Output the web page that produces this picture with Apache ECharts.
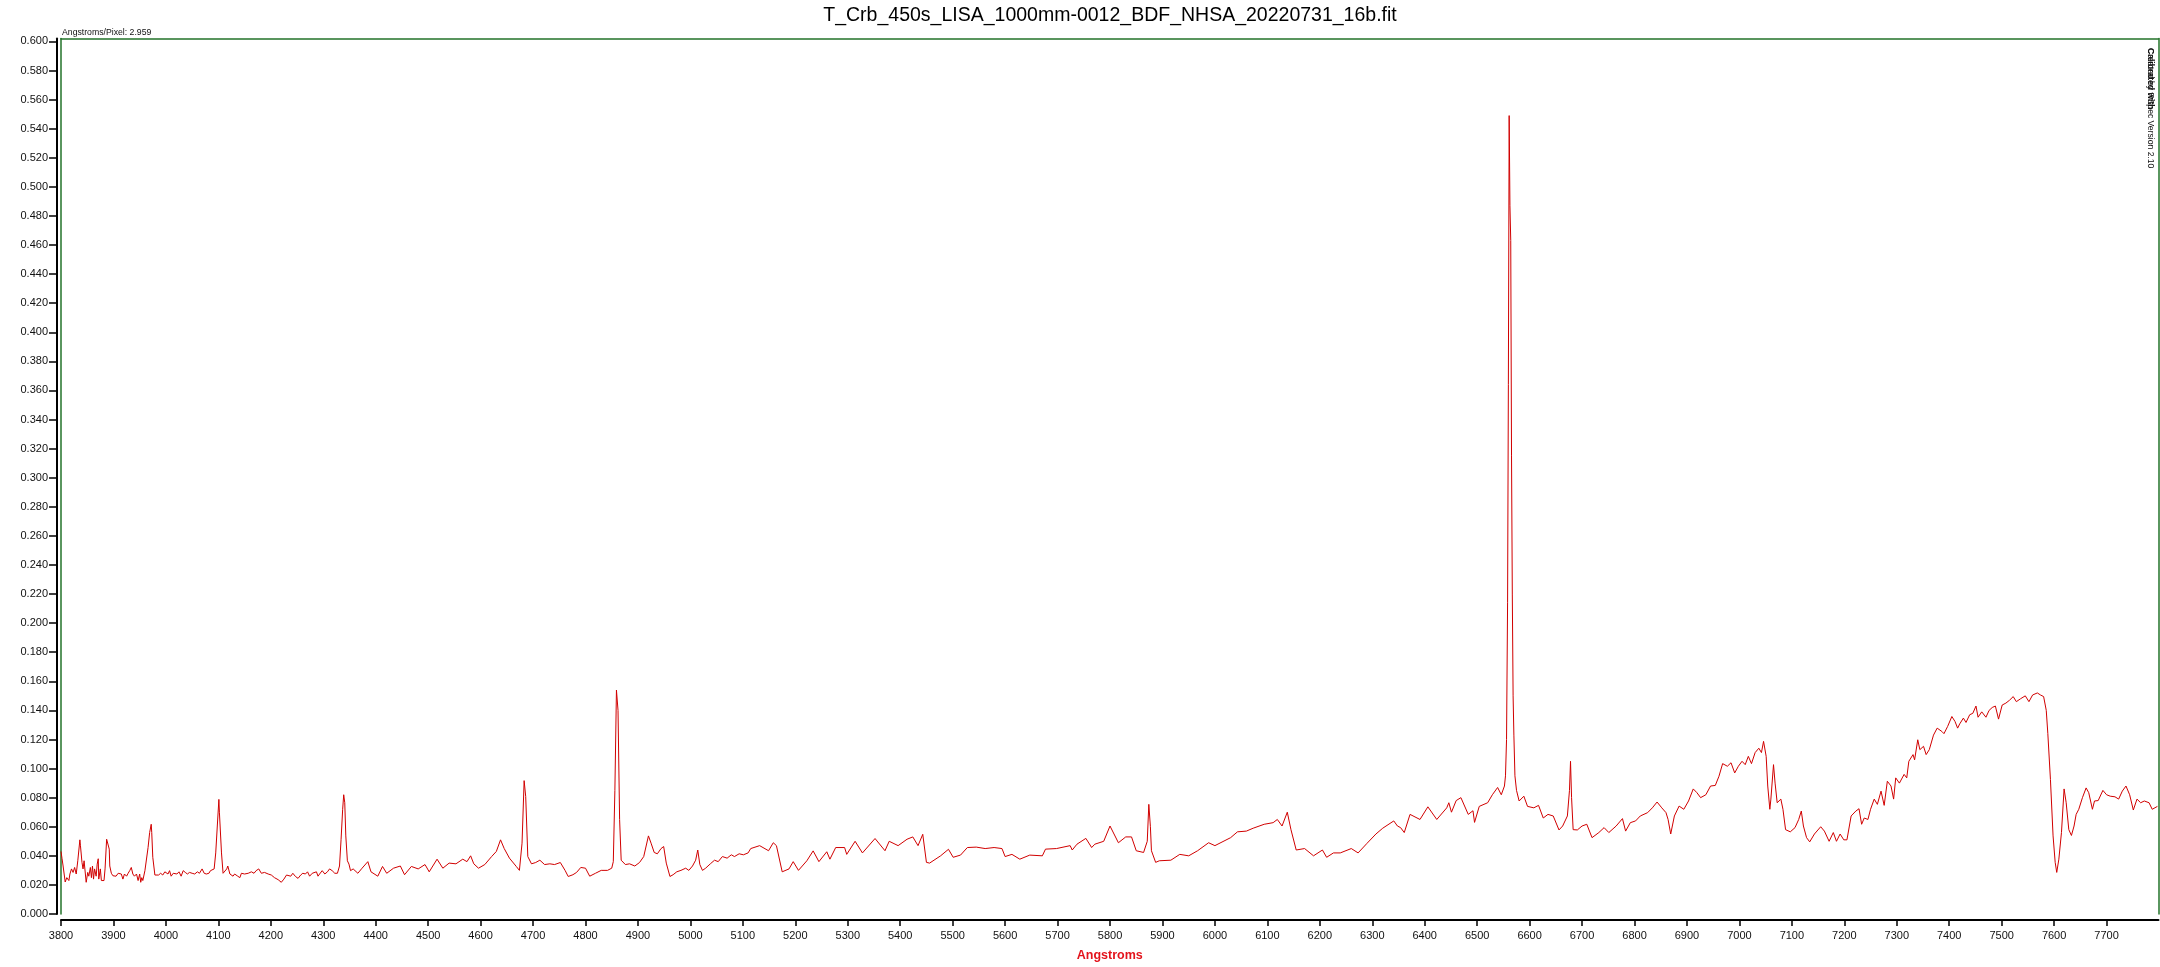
<!DOCTYPE html>
<html>
<head>
<meta charset="utf-8">
<title>T_Crb spectrum</title>
<script src="https://cdn.jsdelivr.net/npm/echarts@6/dist/echarts.min.js"></script>
<style>
  html, body { margin: 0; padding: 0; background: #fff; overflow: hidden; }
  #chart { width: 2160px; height: 967px; }
</style>
</head>
<body>
<div id="chart"></div>
<script>
// ---------------- data ----------------
const chartTitle = 'T_Crb_450s_LISA_1000mm-0012_BDF_NHSA_20220731_16b.fit';
const dispersionNote = 'Angstroms/Pixel: 2.959';
const xAxisName = 'Angstroms';

const xTicks = [3800, 3900, 4000, 4100, 4200, 4300, 4400, 4500, 4600, 4700, 4800, 4900, 5000,
  5100, 5200, 5300, 5400, 5500, 5600, 5700, 5800, 5900, 6000, 6100, 6200, 6300, 6400, 6500,
  6600, 6700, 6800, 6900, 7000, 7100, 7200, 7300, 7400, 7500, 7600, 7700];

const yTicks = [0, 0.02, 0.04, 0.06, 0.08, 0.10, 0.12, 0.14, 0.16, 0.18, 0.20, 0.22, 0.24, 0.26,
  0.28, 0.30, 0.32, 0.34, 0.36, 0.38, 0.40, 0.42, 0.44, 0.46, 0.48, 0.50, 0.52, 0.54, 0.56, 0.58, 0.60];

// spectrum: [wavelength (Angstrom), flux]
const spectrumBlue = [
  [3800,0.043],[3802,0.038],[3804,0.033],[3808,0.022],[3811,0.025],[3815,0.023],[3817,0.0275],[3820,0.031],
  [3823,0.0286],[3826,0.032],[3829,0.0275],[3832,0.0366],[3836,0.051],[3837,0.0473],[3840,0.0355],[3842,0.031],
  [3844,0.0366],[3846,0.0366],[3848,0.0218],[3851,0.0286],[3853,0.026],[3856,0.032],[3858,0.025],[3860,0.033],
  [3862,0.024],[3864,0.031],[3867,0.026],[3869,0.0343],[3871,0.038],[3872,0.024],[3875,0.031],[3877,0.023],
  [3880,0.0236],[3882,0.023],[3884,0.031],[3887,0.0514],[3889,0.0505],[3892,0.0446],[3893,0.033],[3896,0.028],
  [3899,0.0263],[3902,0.0275],[3905,0.026],[3909,0.028],[3912,0.0268],[3915,0.0275],[3918,0.024],[3921,0.0275],
  [3925,0.026],[3928,0.028],[3931,0.0298],[3934,0.032],[3937,0.0275],[3940,0.026],[3944,0.0275],[3947,0.023],
  [3950,0.0275],[3952,0.0218],[3954,0.025],[3956,0.023],[3960,0.0298],[3963,0.031],[3966,0.0457],[3969,0.056],
  [3972,0.0617],[3973,0.056],[3975,0.039],[3979,0.0268],[3982,0.0275],[3986,0.0268],[3990,0.028],[3994,0.0268],
  [3998,0.029],[4001,0.0298],[4004,0.0275],[4007,0.0298],[4010,0.026],[4014,0.028],[4017,0.0286],[4021,0.0275],
  [4025,0.029],[4029,0.026],[4033,0.0298],[4037,0.0286],[4041,0.0275],[4045,0.0286],[4050,0.028],[4055,0.0275],
  [4060,0.029],[4064,0.028],[4069,0.031],[4073,0.028],[4077,0.0275],[4082,0.028],[4085,0.0298],[4088,0.031],
  [4092,0.031],[4095,0.042],[4098,0.0605],[4101,0.0788],[4102,0.070],[4106,0.042],[4109,0.028],[4112,0.0275],
  [4116,0.031],[4118,0.033],[4122,0.0275],[4125,0.028],[4128,0.026],[4131,0.0275],[4134,0.028],[4137,0.026],
  [4141,0.025],[4144,0.028],[4150,0.0275],[4157,0.028],[4163,0.029],[4168,0.028],[4172,0.0298],[4177,0.031],
  [4182,0.028],[4188,0.0286],[4195,0.0275],[4201,0.0268],[4207,0.025],[4214,0.0236],[4220,0.0218],[4225,0.024],
  [4230,0.0268],[4233,0.0275],[4238,0.026],[4242,0.028],[4247,0.0258],[4252,0.0245],[4257,0.0268],[4261,0.028],
  [4266,0.0275],[4270,0.029],[4274,0.026],[4279,0.028],[4282,0.0275],[4287,0.029],[4290,0.026],[4293,0.0275],
  [4298,0.0298],[4303,0.0275],[4308,0.029],[4312,0.031],[4317,0.0298],[4322,0.028],[4327,0.028],[4331,0.033],
  [4334,0.0514],[4337,0.072],[4339,0.082],[4341,0.0765],[4343,0.0537],[4346,0.0366],[4349,0.0343],[4352,0.0298],
  [4357,0.031]
];

const spectrumGreen = [
  [4366,0.028],[4374,0.0315],[4385,0.036],[4391,0.029],[4404,0.026],[4413,0.0327],[4421,0.028],[4434,0.0315],
  [4447,0.033],[4455,0.027],[4468,0.0327],[4481,0.031],[4494,0.034],[4502,0.029],[4517,0.0377],[4528,0.0315],
  [4540,0.035],[4553,0.0345],[4566,0.0377],[4574,0.036],[4581,0.040],[4587,0.0345],[4596,0.0315],[4608,0.034],
  [4621,0.0395],[4630,0.043],[4638,0.051],[4645,0.045],[4655,0.0384],[4668,0.0327],[4674,0.030],[4679,0.0487],
  [4683,0.0917],[4686,0.0807],[4690,0.0395],[4697,0.0345],[4705,0.0354],[4713,0.037],[4722,0.034],[4732,0.0345],
  [4741,0.034],[4752,0.0354],[4761,0.030],[4767,0.0258],[4776,0.027],[4783,0.0286],[4791,0.032],[4800,0.0315],
  [4808,0.026],[4819,0.028],[4830,0.030],[4842,0.030],[4850,0.0315],[4853,0.036],[4856,0.085],[4859,0.154],
  [4862,0.140],[4865,0.065],[4868,0.037],[4876,0.034],[4884,0.0345],[4894,0.033],[4903,0.0354],[4911,0.0395],
  [4920,0.0537],[4925,0.0487],[4931,0.0423],[4937,0.0414],[4944,0.045],[4949,0.0464],[4954,0.035],[4961,0.0258],
  [4967,0.027],[4974,0.029],[4982,0.030],[4991,0.0315],[4997,0.030],[5004,0.033],[5010,0.037],[5014,0.044],
  [5018,0.034],[5023,0.030],[5029,0.0315],[5038,0.0345],[5046,0.037],[5053,0.036],[5061,0.0395],[5070,0.0384],
  [5078,0.0407],[5084,0.0395],[5093,0.0414],[5101,0.0407],[5110,0.042]
];

const spectrumYellow = [
  [5115,0.045],[5132,0.047],[5149,0.0435],[5158,0.049],[5164,0.047],[5175,0.029],[5188,0.031],[5196,0.036],
  [5206,0.030],[5222,0.0366],[5234,0.0434],[5245,0.036],[5260,0.0428],[5266,0.0377],[5277,0.0457],[5294,0.0457],
  [5298,0.041],[5314,0.050],[5328,0.042],[5352,0.0519],[5371,0.0435],[5379,0.050],[5396,0.047],[5413,0.0514],
  [5424,0.053],[5434,0.047],[5443,0.0548],[5450,0.0355],[5456,0.035],[5477,0.040],[5492,0.0445],[5501,0.039],
  [5515,0.0405],[5528,0.0457],[5545,0.046],[5562,0.045],[5579,0.0457],[5594,0.045],[5600,0.0395],[5613,0.041],
  [5628,0.0377],[5647,0.0405],[5671,0.040],[5677,0.0446],[5698,0.045],[5724,0.047],[5728,0.044],[5737,0.048],
  [5754,0.052],[5765,0.0457],[5771,0.048],[5788,0.050],[5800,0.0605],[5816,0.049],[5830,0.053],[5841,0.053],
  [5850,0.0435],[5864,0.0423],[5871,0.050],[5874,0.0754],[5877,0.060],[5879,0.0435],[5887,0.0355],[5894,0.0366],
  [5916,0.037],[5933,0.041],[5950,0.040],[5967,0.0435],[5988,0.049],[6000,0.047],[6030,0.0525],[6043,0.0565],
  [6060,0.057],[6073,0.059],[6094,0.0617],[6111,0.0628],[6119,0.065],[6128,0.0605],[6138,0.070],[6145,0.058],
  [6155,0.044],[6171,0.045],[6188,0.040],[6205,0.044],[6213,0.039],[6226,0.042],[6239,0.042],[6260,0.045],
  [6273,0.042],[6290,0.0486],[6307,0.055],[6320,0.059],[6341,0.064],[6348,0.0605]
];

const spectrumRed = [
  [6354,0.0594],[6361,0.056],[6372,0.0685],[6391,0.065],[6406,0.0737],[6423,0.065],[6442,0.073],[6446,0.0765],
  [6451,0.070],[6460,0.078],[6469,0.080],[6483,0.0685],[6492,0.071],[6495,0.063],[6504,0.074],[6520,0.0765],
  [6529,0.082],[6539,0.087],[6546,0.082],[6552,0.088],[6554,0.095],[6556,0.12],[6558,0.214],[6559.5,0.364],
  [6561,0.549],[6562.5,0.487],[6564,0.463],[6565.5,0.315],[6567,0.22],[6568.5,0.15],[6570,0.123],[6572,0.095],
  [6575,0.085],[6580,0.0777],[6589,0.081],[6596,0.074],[6608,0.073],[6617,0.0747],[6626,0.066],[6635,0.0685],
  [6645,0.0674],[6656,0.0578],[6663,0.0605],[6672,0.0674],[6676,0.085],[6678,0.105],[6680,0.08],[6683,0.058],
  [6691,0.0578],[6700,0.0605],[6709,0.0617],[6719,0.0525],[6732,0.056],[6742,0.0594],[6751,0.056],[6765,0.0605],
  [6777,0.0656],[6783,0.057],[6792,0.0628],[6802,0.064],[6811,0.0674],[6825,0.0697],[6834,0.073],[6843,0.077],
  [6852,0.073],[6860,0.0697],[6864,0.065],[6869,0.055],[6876,0.0674],[6885,0.0742],[6894,0.072],[6903,0.0777],
  [6912,0.086],[6919,0.0834],[6926,0.080],[6936,0.082],[6945,0.088],[6954,0.0884],[6961,0.0947],[6968,0.1034],
  [6977,0.1016],[6984,0.104],[6991,0.097],[6998,0.1016],[7005,0.105],[7011,0.1027],[7017,0.1084],[7023,0.1034],
  [7030,0.111],[7037,0.114],[7042,0.111],[7046,0.1187],[7051,0.1084],[7054,0.088],[7058,0.072],[7060,0.079],
  [7065,0.1027],[7068,0.090],[7072,0.0765],[7079,0.079],[7083,0.072],[7088,0.058],[7097,0.0565],[7106,0.0594],
  [7113,0.065],[7118,0.0708],[7122,0.0605],[7128,0.0525],[7134,0.0496],[7143,0.055],[7155,0.060],[7162,0.057],
  [7171,0.050],[7179,0.056],[7185,0.050],[7192,0.055],[7199,0.051],[7205,0.051],[7213,0.0674],[7222,0.0708],
  [7228,0.0724],[7233,0.0617],[7238,0.066],[7245,0.065],[7250,0.072],[7257,0.079],[7263,0.0754],[7270,0.0845],
  [7276,0.0747],[7282,0.0913],[7289,0.088],[7294,0.079],[7298,0.0936],[7305,0.090],[7314,0.096],[7319,0.0936],
  [7323,0.105],[7331,0.1096],[7334,0.106],[7340,0.1198],[7344,0.113],[7351,0.1153],[7356,0.1096],[7362,0.113],
  [7370,0.123],[7377,0.1278],[7386,0.1255],[7390,0.124],[7397,0.129],[7405,0.1358],[7411,0.1324],[7416,0.1278],
  [7420,0.1307],[7427,0.1347],[7432,0.1317],[7439,0.137],[7445,0.138],[7451,0.143],[7455,0.1353],[7462,0.139],
  [7470,0.1353],[7476,0.140],[7482,0.142],[7488,0.143],[7494,0.134],[7501,0.1437],[7508,0.145],[7515,0.147],
  [7522,0.1495],[7528,0.146],[7536,0.148],[7545,0.150],[7552,0.146],[7559,0.1506],[7568,0.152],[7574,0.1506],
  [7580,0.1495],[7585,0.140],[7588,0.124],[7593,0.0924],[7598,0.0537],[7602,0.0355],[7605,0.0286],[7609,0.0377],
  [7614,0.056],[7619,0.086],[7623,0.0765],[7628,0.058],[7633,0.054],[7638,0.0605],[7642,0.0685],[7647,0.072],
  [7654,0.080],[7661,0.0867],[7666,0.0834],[7673,0.072],[7677,0.0777],[7684,0.078],[7693,0.085],[7700,0.082],
  [7707,0.081],[7716,0.0806],[7723,0.079],[7730,0.0845],[7737,0.088],[7744,0.082],[7751,0.0715],[7758,0.079],
  [7765,0.0765],[7772,0.0777],[7781,0.0765],[7787,0.072],[7797,0.074]
];

// ---------------- chart ----------------
const spectrum = spectrumBlue.concat(spectrumGreen, spectrumYellow, spectrumRed);

const FRAME_GREEN = '#23732a';
const LINE_RED = '#d10000';
const FONT = '"Liberation Sans", Arial, sans-serif';

const chart = echarts.init(document.getElementById('chart'), null, { renderer: 'canvas', width: 2160, height: 967 });

const option = {
  animation: false,
  backgroundColor: '#ffffff',
  grid: { left: 61, width: 2097.5, top: 38.5, height: 880, containLabel: false },
  graphic: [
    { type: 'text', x: 1110, y: 16, silent: true,
      style: { text: chartTitle, fill: '#000', font: '19.5px ' + FONT, align: 'center', verticalAlign: 'middle' } },
    { type: 'text', x: 62, y: 32.5, silent: true,
      style: { text: dispersionNote, fill: '#111', font: '8.7px ' + FONT, align: 'left', verticalAlign: 'middle' } },
    { type: 'text', x: 2150.5, y: 48, rotation: -Math.PI / 2, silent: true,
      style: { text: 'Created by RSpec Version 2.10', fill: '#111', font: '8.6px ' + FONT, align: 'left', verticalAlign: 'middle' } },
    { type: 'text', x: 2150.5, y: 48, rotation: -Math.PI / 2, silent: true,
      style: { text: 'Calibrated with', fill: '#111', font: 'bold 8.6px ' + FONT, align: 'left', verticalAlign: 'middle' } }
  ],
  xAxis: [
    {
      type: 'value', min: 3800, max: 7799, position: 'bottom', offset: 6,
      name: xAxisName, nameLocation: 'middle', nameGap: 29,
      nameTextStyle: { color: '#e3141c', fontWeight: 'bold', fontSize: 12.5, fontFamily: FONT },
      axisLine: { show: true, onZero: false, lineStyle: { color: '#000', width: 2 } },
      axisTick: { show: true, length: 6, customValues: xTicks, lineStyle: { color: '#000', width: 1.5 } },
      axisLabel: { customValues: xTicks, color: '#111', fontSize: 11, fontFamily: FONT, margin: 10,
        formatter: function (v) { return String(Math.round(v)); } },
      splitLine: { show: false }
    },
    {
      type: 'value', min: 3800, max: 7799, position: 'top',
      axisLine: { show: true, onZero: false, lineStyle: { color: FRAME_GREEN, width: 1.5 } },
      axisTick: { show: false }, axisLabel: { show: false }, splitLine: { show: false }
    }
  ],
  yAxis: [
    {
      type: 'value', min: 0, max: 0.602, position: 'left', offset: 4,
      axisLine: { show: true, onZero: false, lineStyle: { color: '#000', width: 2 } },
      axisTick: { show: true, length: 8, customValues: yTicks, lineStyle: { color: '#000', width: 1.5 } },
      axisLabel: { customValues: yTicks, color: '#111', fontSize: 11, fontFamily: FONT, margin: 9,
        formatter: function (v) { return Number(v).toFixed(3); } },
      splitLine: { show: false }
    },
    {
      type: 'value', min: 0, max: 0.602, position: 'left', offset: 0,
      axisLine: { show: true, onZero: false, lineStyle: { color: FRAME_GREEN, width: 1.5 } },
      axisTick: { show: false }, axisLabel: { show: false }, splitLine: { show: false }
    },
    {
      type: 'value', min: 0, max: 0.602, position: 'right', offset: 0,
      axisLine: { show: true, onZero: false, lineStyle: { color: FRAME_GREEN, width: 1.5 } },
      axisTick: { show: false }, axisLabel: { show: false }, splitLine: { show: false }
    }
  ],
  series: [
    {
      type: 'line', name: 'flux', xAxisIndex: 0, yAxisIndex: 0,
      data: spectrum, showSymbol: false, symbol: 'none', smooth: false, silent: true,
      lineStyle: { color: LINE_RED, width: 1 }, clip: true
    }
  ]
};

chart.setOption(option);
</script>
</body>
</html>
